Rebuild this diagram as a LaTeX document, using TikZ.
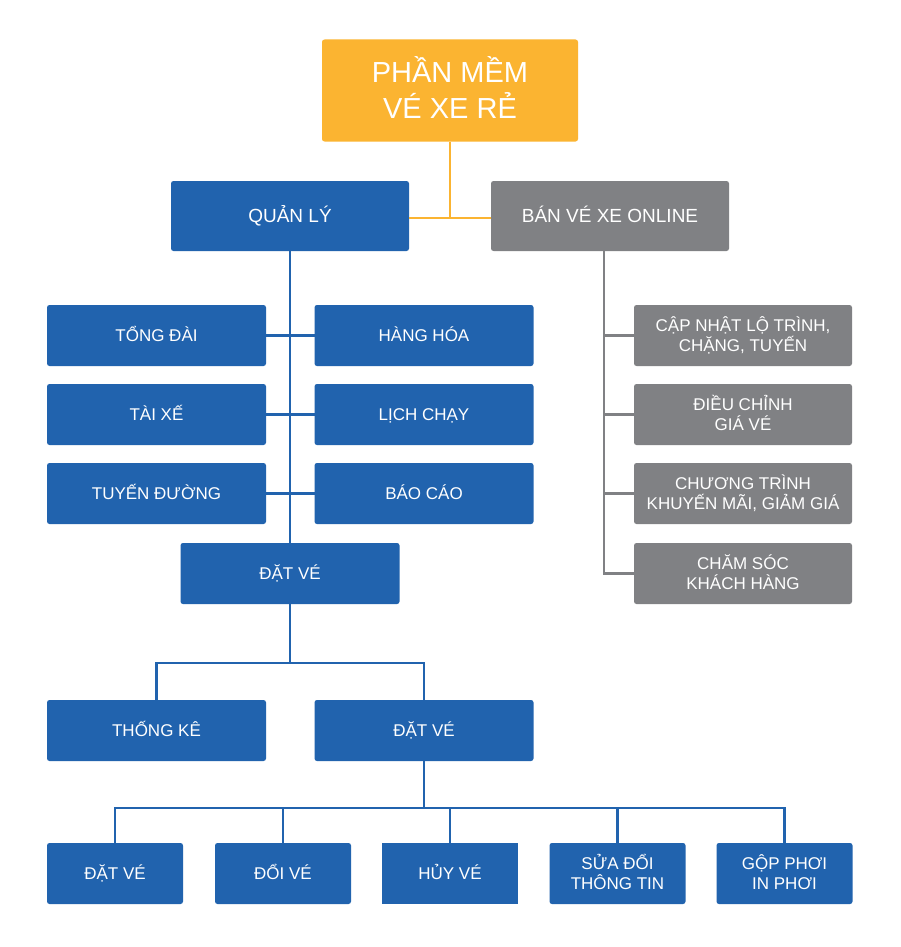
\documentclass[tikz,border=0pt]{standalone}
\usepackage{fontspec}
\setmainfont{Liberation Sans}
\definecolor{cblue}{HTML}{2163AE}
\definecolor{corange}{HTML}{FBB431}
\definecolor{cgray}{HTML}{808184}
\newcommand{\twol}[3][20pt]{\vbox{\baselineskip=#1\lineskiplimit=-20pt\halign{\hfil##\hfil\cr#2\cr#3\cr}}}
\begin{document}
\begin{tikzpicture}[x=1pt,y=-1pt,
  box/.style={rectangle, rounded corners=2.5pt, inner sep=0pt, outer sep=0pt, text=white, font=\fontsize{17}{20}\selectfont, text height=12.2pt, text depth=0pt},
  twolines/.style={text height=32.2pt, text depth=0pt},
  bluebox/.style={box, fill=cblue, minimum width=219pt, minimum height=61pt},
  graybox/.style={box, fill=cgray, minimum width=218pt, minimum height=61pt},
  smallbox/.style={box, fill=cblue, minimum width=136pt, minimum height=61pt},
  levtwo/.style={box, minimum width=238pt, minimum height=70pt, font=\fontsize{19}{23}\selectfont, text height=13.6pt},
  bline/.style={draw=cblue, line width=2.5pt},
  oline/.style={draw=corange, line width=2.5pt},
  gline/.style={draw=cgray, line width=2.5pt}
]
\fill[white] (0,0) rectangle (900,947);
\useasboundingbox (0,0) rectangle (900,947);

% top
\node[box, fill=corange, minimum width=256pt, minimum height=102pt, font=\fontsize{29}{35}\selectfont, text height=56.2pt, text depth=0pt] (top) at (450,90.5) {\twol[35.6pt]{PHẦN MỀM}{VÉ XE RẺ}};
\node[levtwo, fill=cblue] (ql) at (290,216) {QUẢN LÝ};
\node[levtwo, fill=cgray] (ban) at (610,216) {BÁN VÉ XE ONLINE};

% left column
\node[bluebox] (l1) at (156.5,335.5) {TỔNG ĐÀI};
\node[bluebox] (l2) at (156.5,414.5) {TÀI XẾ};
\node[bluebox] (l3) at (156.5,493.5) {TUYẾN ĐƯỜNG};
\node[bluebox] (r1) at (424,335.5) {HÀNG HÓA};
\node[bluebox] (r2) at (424,414.5) {LỊCH CHẠY};
\node[bluebox] (r3) at (424,493.5) {BÁO CÁO};
\node[bluebox] (dv1) at (290,573.5) {ĐẶT VÉ};
\node[bluebox] (tk) at (156.5,730.5) {THỐNG KÊ};
\node[bluebox] (dv2) at (424,730.5) {ĐẶT VÉ};

% bottom row
\node[smallbox] (b1) at (115,873.5) {ĐẶT VÉ};
\node[smallbox] (b2) at (283,873.5) {ĐỔI VÉ};
\node[smallbox, rounded corners=0pt] (b3) at (450,873.5) {HỦY VÉ};
\node[smallbox, twolines] (b4) at (617.5,873.5) {\twol{SỬA ĐỔI}{THÔNG TIN}};
\node[smallbox, twolines] (b5) at (784.5,873.5) {\twol{GỘP PHƠI}{IN PHƠI}};

% gray column
\node[graybox, twolines] (g1) at (743,335.5) {\twol{CẬP NHẬT LỘ TRÌNH,}{CHẶNG, TUYẾN}};
\node[graybox, twolines] (g2) at (743,414.5) {\twol{ĐIỀU CHỈNH}{GIÁ VÉ}};
\node[graybox, twolines] (g3) at (743,493.5) {\twol{CHƯƠNG TRÌNH}{KHUYẾN MÃI, GIẢM GIÁ}};
\node[graybox, twolines] (g4) at (743,573.5) {\twol{CHĂM SÓC}{KHÁCH HÀNG}};

% connectors
\coordinate (ojoin) at (450,218);
\draw[oline] (top.south) -- (ojoin);
\draw[oline] (ql.east |- ojoin) -- (ban.west |- ojoin);

\draw[bline] (ql.south) -- (dv1.north);
\draw[bline] (l1.east) -- (r1.west);
\draw[bline] (l2.east) -- (r2.west);
\draw[bline] (l3.east) -- (r3.west);

\coordinate (bus1) at (290,663);
\draw[bline] (dv1.south) -- (bus1);
\draw[bline] (tk.north) |- (bus1) -| (dv2.north);

\coordinate (bus2) at (424,808);
\draw[bline] (dv2.south) -- (bus2);
\draw[bline] (b1.north) |- (bus2) -| (b5.north);
\draw[bline] (b2.north) |- (bus2);
\draw[bline] (b3.north) |- (bus2);
\draw[bline] (b4.north) |- (bus2);

\coordinate (gtop) at (604,251);
\draw[gline] (gtop) |- (g4.west);
\draw[gline] (g1.west -| gtop) -- (g1.west);
\draw[gline] (g2.west -| gtop) -- (g2.west);
\draw[gline] (g3.west -| gtop) -- (g3.west);
\end{tikzpicture}
\end{document}
